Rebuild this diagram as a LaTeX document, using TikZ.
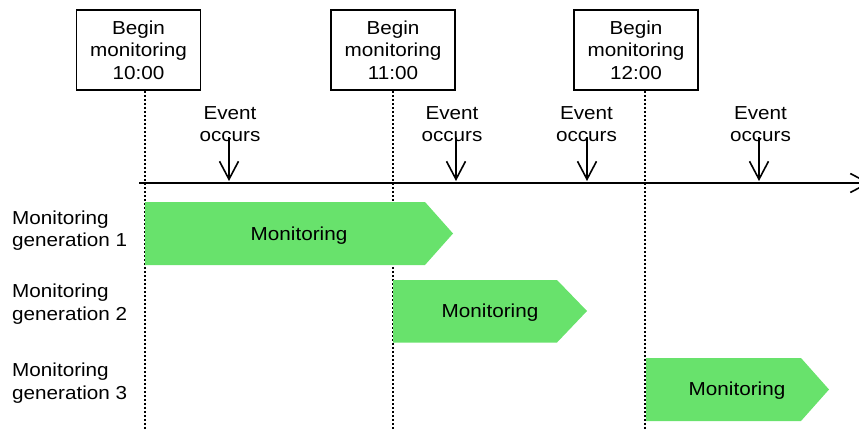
\documentclass[tikz,border=0pt]{standalone}
\usepackage{fontspec}
\setmainfont{Liberation Sans}[FakeStretch=1.1]
\usetikzlibrary{arrows.meta}
\definecolor{mongreen}{HTML}{68E26C}

\begin{document}
\begin{tikzpicture}[x=1pt,y=-1pt,
  every node/.style={font=\fontsize{18.8}{22.5}\selectfont},
  startbox/.style={draw,line width=1.5pt,minimum width=124pt,minimum height=80pt,inner sep=0pt,align=center},
  evlabel/.style={align=center,inner sep=0pt},
  genlabel/.style={align=left,anchor=west,inner sep=0pt},
  guide/.style={line width=2pt,dash pattern=on 2.6pt off 1.4pt},
  hit/.style={line width=1.6pt,-{Straight Barb[length=18pt,width=19pt,line width=1.6pt]}},
  period/.style={fill=mongreen}]
  \clip (0,0) rectangle (859,429);
  % Start boxes
  \node[startbox] (b1) at (138.5,50) {Begin\\monitoring\\10:00};
  \node[startbox] (b2) at (393,50) {Begin\\monitoring\\11:00};
  \node[startbox] (b3) at (636,50) {Begin\\monitoring\\12:00};
  % Guide lines
  \coordinate (g1) at (144.5,432);
  \coordinate (g2) at (392.5,432);
  \coordinate (g3) at (644.5,432);
  \draw[guide] (g1 |- b1.south) -- (g1);
  \draw[guide] (g2 |- b2.south) -- (g2);
  \draw[guide] (g3 |- b3.south) -- (g3);
  % Time axis
  \coordinate (t0) at (139,183);
  \coordinate (tend) at (870,183);
  \draw[hit] (t0) -- (tend);
  % Events
  \node[evlabel] (e1) at (230,124) {Event\\occurs};
  \node[evlabel] (e2) at (452,124) {Event\\occurs};
  \node[evlabel] (e3) at (586.5,124) {Event\\occurs};
  \node[evlabel] (e4) at (760.5,124) {Event\\occurs};
  \coordinate (a1) at (229,181);
  \coordinate (a2) at (456,181);
  \coordinate (a3) at (587,181);
  \coordinate (a4) at (759,181);
  \draw[hit] ([yshift=5pt]e1.south -| a1) -- (a1);
  \draw[hit] ([yshift=5pt]e2.south -| a2) -- (a2);
  \draw[hit] ([yshift=5pt]e3.south -| a3) -- (a3);
  \draw[hit] ([yshift=5pt]e4.south -| a4) -- (a4);
  % Generations
  \node[genlabel] (l1) at (12,230.5) {Monitoring\\generation 1};
  \node[genlabel] (l2) at (12,304) {Monitoring\\generation 2};
  \node[genlabel] (l3) at (12,383) {Monitoring\\generation 3};
  % Monitoring periods
  \fill[period] (145,202) -- (425,202) -- (453,233.5) -- (425,265) -- (145,265) -- cycle;
  \node[anchor=base] (m1) at (299,240) {Monitoring};
  \fill[period] (393,280) -- (557,280) -- (587,311) -- (557,342.5) -- (393,342.5) -- cycle;
  \node[anchor=base] (m2) at (490,317.5) {Monitoring};
  \fill[period] (646,358) -- (801,358) -- (829,389.5) -- (801,421) -- (646,421) -- cycle;
  \node[anchor=base] (m3) at (737,395.5) {Monitoring};
\end{tikzpicture}
\end{document}
